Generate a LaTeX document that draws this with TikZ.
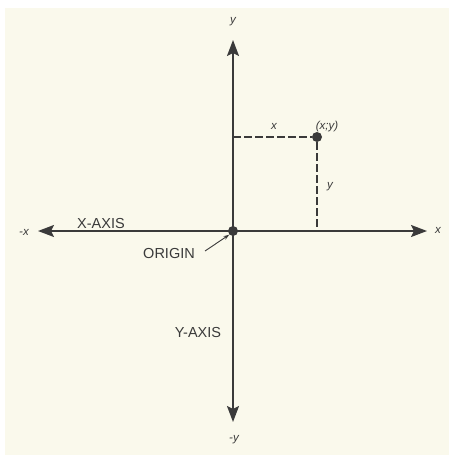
\documentclass[tikz,border=0pt]{standalone}
\usepackage{fontspec}
\setmainfont{Liberation Sans}
\usetikzlibrary{arrows.meta}
\definecolor{PaperTone}{HTML}{FAF9EC}
\definecolor{InkGray}{HTML}{3A3A3A}

\begin{document}
\begin{tikzpicture}[x=1pt, y=-1pt,
    axis/.style={draw=InkGray, line width=1.8pt,
      {Stealth[length=16pt, width=12pt, inset=3pt]}-{Stealth[length=16pt, width=12pt, inset=3pt]}},
    guide/.style={draw=InkGray, line width=1.4pt, dash pattern=on 8pt off 3pt},
    dotmark/.style={circle, fill=InkGray, inner sep=0pt, minimum size=10pt},
    axislabel/.style={font=\fontsize{14.5}{17}\selectfont, text=InkGray, inner sep=1pt},
    varlabel/.style={font=\fontsize{11.5}{13}\selectfont\itshape, text=InkGray, inner sep=1pt}]
  \useasboundingbox (0,0) rectangle (451,455);
  \fill[white] (0,0) rectangle (451,455);
  \fill[PaperTone] (5,8) rectangle (449,455);

  % axes
  \coordinate (xneg) at (38,231);
  \coordinate (xpos) at (427,231);
  \coordinate (ypos) at (233,40);
  \coordinate (yneg) at (233,422);
  \draw[axis] (xneg) -- (xpos);
  \draw[axis] (yneg) -- (ypos);

  % origin and point
  \node[dotmark] (origin) at (233,231) {};
  \node[dotmark] (pt) at (317,137) {};
  \draw[guide] (origin |- pt) -- (pt);
  \draw[guide] (pt) -- (pt |- origin);

  % labels
  \node[varlabel] (ylab) at (233,22) {y};
  \node[varlabel] (nylab) at (234,440) {-y};
  \node[varlabel] (nxlab) at (24,232) {-x};
  \node[varlabel] (xlab) at (438,230) {x};
  \node[varlabel] (dxlab) at (274,126) {x};
  \node[varlabel] (dylab) at (330,187) {y};
  \node[varlabel] (ptlab) at (327,127) {(x;y)};
  \node[axislabel] (xaxis) at (101,224) {X-AXIS};
  \node[axislabel] (yaxis) at (198,333) {Y-AXIS};
  \node[axislabel] (orig) at (169,254) {ORIGIN};

  % pointer to origin
  \coordinate (ptrstart) at (205,251);
  \draw[InkGray, line width=0.9pt, -{Stealth[length=6pt, width=4pt]}]
    (ptrstart) -- (origin.south west);
\end{tikzpicture}
\end{document}
